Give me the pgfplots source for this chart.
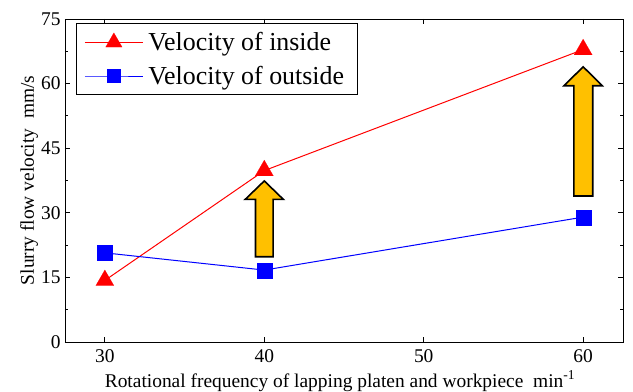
\documentclass[border=0pt]{standalone}
\usepackage{fontspec}
\setmainfont{Liberation Serif}
\usepackage{pgfplots}
\pgfplotsset{compat=1.18}
\definecolor{arrowgold}{HTML}{FFC000}
\pgfplotsset{
  triimg/.style={legend image code/.code={\draw[##1, mark repeat=2, mark phase=2, mark size=9.5bp] plot coordinates {(0bp,0bp) (29bp,0bp) (58bp,0bp)};}},
  sqimg/.style={legend image code/.code={\draw[##1, mark repeat=2, mark phase=2, mark size=6.5bp] plot coordinates {(0bp,0bp) (29bp,0bp) (58bp,0bp)};}},
}
\begin{document}
\begin{tikzpicture}
\begin{axis}[
  scale only axis,
  width=558bp, height=323bp,
  xmin=27.5, xmax=62.5, ymin=0, ymax=75,
  xtick={30,40,50,60},
  ytick={0,15,30,45,60,75},
  minor ytick={7.5,22.5,37.5,52.5,67.5},
  tick align=inside,
  major tick length=5bp,
  minor tick length=3.5bp,
  /pgf/number format/assume math mode=true,
  tick label style={font=\fontsize{19.5}{22}\selectfont},
  xticklabel style={yshift=-4bp},
  yticklabel style={xshift=-1bp},
  axis line style={line width=0.9bp},
  every tick/.style={line width=0.8bp, black},
  label style={font=\fontsize{19.5}{22}\selectfont},
  xlabel={Rotational frequency of lapping platen and workpiece\ \ min\textsuperscript{-1}},
  ylabel={Slurry flow velocity\ \ mm/s},
  xlabel style={at={(axis description cs:0.5,0)}, anchor=base, yshift=-45bp, xshift=-4bp},
  ylabel style={at={(axis description cs:0,0.5)}, anchor=base, yshift=31bp},
  clip=false,
  legend style={at={(rel axis cs:0.0197,0.9876)}, anchor=north west,
    font=\fontsize{26}{30}\selectfont, draw=black, line width=0.8bp,
    inner xsep=8bp, inner ysep=5.5bp, row sep=7bp,
    nodes={inner xsep=5bp, inner ysep=3.5bp}},
  legend cell align=left,
]
% arrows
\addplot[fill=arrowgold, draw=black, line width=1.6bp, forget plot] coordinates {
  (39.45,19.8) (40.55,19.8) (40.55,33.1) (41.2,33.1) (40,37.4) (38.8,33.1) (39.45,33.1)} --cycle;
\addplot[fill=arrowgold, draw=black, line width=1.6bp, forget plot] coordinates {
  (59.42,33.9) (60.6,33.9) (60.6,59.5) (61.2,59.5) (60,63.9) (58.8,59.5) (59.42,59.5)} --cycle;
% data
\addplot[red, line width=1bp, mark=triangle*, mark size=10.5bp,
  mark options={solid, fill=red, draw=red, line width=0.1bp}, triimg]
  coordinates {(30,14.3) (40,39.8) (60,67.9)};
\addlegendentry{Velocity of inside}
\addplot[blue, line width=1bp, mark=square*, mark size=7.5bp,
  mark options={solid, fill=blue, draw=blue, line width=0.1bp}, sqimg]
  coordinates {(30,20.7) (40,16.7) (60,29.0)};
\addlegendentry{Velocity of outside}
\end{axis}
\pgfresetboundingbox
\path ([shift={(-65bp,-50bp)}]current axis.south west) rectangle ([shift={(10bp,19bp)}]current axis.north east);
\end{tikzpicture}
\end{document}
